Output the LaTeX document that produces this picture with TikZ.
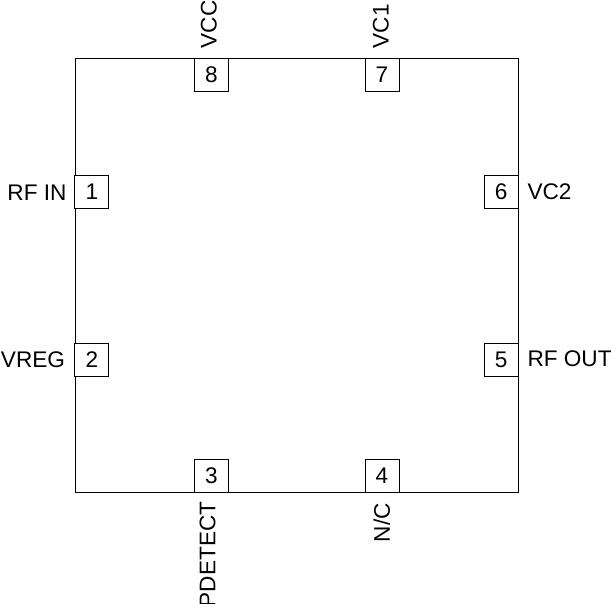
\documentclass[tikz,border=0pt]{standalone}
\usepackage{fontspec}
\setmainfont{Liberation Sans}
\begin{document}
\begin{tikzpicture}[x=1pt,y=-1pt,
  lbl/.style={inner sep=0pt,outer sep=0pt,font=\fontsize{22.6}{25}\selectfont},
  pinbox/.style={draw=black,line width=0.9pt,fill=white,minimum width=34pt,minimum height=33pt,inner sep=0pt,font=\fontsize{22.6}{25}\selectfont},
  chip/.style={draw=black,line width=0.9pt}]
\useasboundingbox (0,0) rectangle (612,603);
\node[chip,minimum width=443.5pt,minimum height=434pt,inner sep=0pt] (body) at (296.75,275) {};
% pins
\node[pinbox] (p8) at (211.5,74.8) {8};
\node[pinbox] (p7) at (382,74.8) {7};
\node[pinbox] (p1) at (91.8,192.2) {1};
\node[pinbox] (p2) at (91.8,359.7) {2};
\node[pinbox] (p6) at (501.2,192.2) {6};
\node[pinbox] (p5) at (501.2,359.7) {5};
\node[pinbox] (p3) at (211.5,475.8) {3};
\node[pinbox] (p4) at (382,475.8) {4};
% labels
\node[lbl,rotate=90,anchor=west] (l8) at (208.8,48.3) {VCC};
\node[lbl,rotate=90,anchor=west] (l7) at (380.8,48.3) {VC1};
\node[lbl,anchor=east] (l1) at (66.5,192.5) {RF IN};
\node[lbl,anchor=east] (l2) at (65,359.7) {VREG};
\node[lbl,anchor=west] (l6) at (527.5,192.2) {VC2};
\node[lbl,anchor=west] (l5) at (527.5,359.2) {RF OUT};
\node[lbl,rotate=90,anchor=east] (l3) at (207.5,501.7) {PDETECT};
\node[lbl,rotate=90,anchor=east] (l4) at (381.7,503.3) {N/C};
\end{tikzpicture}
\end{document}
